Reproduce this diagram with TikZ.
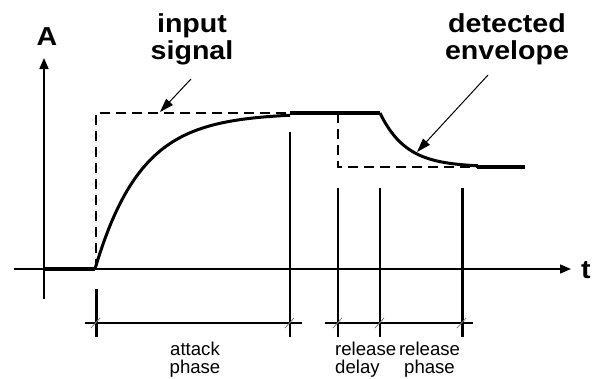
\documentclass[tikz,border=0pt]{standalone}
\usepackage{fontspec}
\setmainfont{Liberation Sans}
\newfontfamily\widefont[FakeStretch=1.1]{Liberation Sans}
\usetikzlibrary{positioning,arrows.meta}
\tikzset{
    axis line/.style={line width=1.6pt, -{Triangle[length=11pt,width=9pt]}},
    envelope/.style={line width=3pt},
    flat part/.style={line width=3.8pt},
    input line/.style={line width=2pt, dash pattern=on 10pt off 6pt},
    marker line/.style={line width=2.3pt},
    dim line/.style={line width=2pt},
    dim tick/.style={gray, line width=0.8pt},
    big label/.style={font=\widefont\fontsize{26}{27}\selectfont\bfseries, align=center, inner sep=0pt},
    phase label/.style={font=\fontsize{18.6}{18}\selectfont, inner sep=0pt},
    pointer/.style={line width=1pt, -{Triangle[length=14pt,width=9pt]}}
}

\begin{document}
\begin{tikzpicture}[x=1pt, y=-1pt]
\useasboundingbox (0,0) rectangle (596,378);

% axes
\coordinate (origin) at (44,269);
\coordinate (yend) at (44,58);
\coordinate (ybot) at (44,299);
\coordinate (xstart) at (14,269);
\coordinate (xend) at (571,269);
\draw[line width=1.6pt] (origin) -- (ybot);
\draw[axis line] (origin) -- (yend);
\draw[axis line] (xstart) -- (xend);
\node[big label] (alabel) at (47,37) {A};
\node[big label] (tlabel) at (586,270) {t};

% input signal (dashed step)
\coordinate (stepbot) at (96,269);
\coordinate (steptop) at (96,113);
\coordinate (stepend) at (290,113);
\coordinate (reltop) at (338,113);
\coordinate (relbot) at (338,167);
\coordinate (relend) at (478,167);
\draw[input line] (stepbot) -- (steptop) -- (stepend);
\draw[input line] (reltop) -- (relbot) -- (relend);

% detected envelope
\draw[flat part] (origin) -- (95,269);
\draw[envelope] plot[domain=0:195, samples=80] ({95+\x},{269-156*(1-exp(-\x/46))});
\draw[envelope, line width=3.4pt] (290,113) -- (380,113);
\draw[envelope] plot[domain=0:98, samples=60] ({380+\x},{113+54*(1-exp(-\x/26))});
\draw[flat part] (477,167) -- (525,167);

% phase markers
\draw[line width=3pt] (96,289) -- (96,337);
\draw[marker line] (290,132) -- (290,337);
\draw[marker line] (338,188) -- (338,337);
\draw[marker line] (380,188) -- (380,337);
\draw[line width=3pt] (462,188) -- (462,337);

% dimension lines
\draw[dim line] (85,323) -- (302,323);
\draw[dim line] (325,323) -- (473,323);
\foreach \x in {96,290,338,380,462}
    \draw[dim tick] (\x-5,328) -- (\x+4,318);

% labels
\node[big label, anchor=north] (inlabel) at (192,13.5) {input\\signal};
\node[big label, anchor=north] (envlabel) at (507,13.5) {detected\\envelope};
\coordinate (intail) at (191,79);
\coordinate (intip) at (160,112);
\coordinate (envtail) at (488,75);
\coordinate (envtip) at (417,152);
\draw[pointer] (intail) -- (intip);
\draw[pointer] (envtail) -- (envtip);

\node[phase label, align=center, anchor=north] (attack) at (195,341.5) {attack\\phase};
\node[phase label, align=left, anchor=north west] (delay) at (335,341.5) {release\\delay};
\node[phase label, align=center, anchor=north] (release) at (429.5,341.5) {release\\phase};
\end{tikzpicture}
\end{document}
